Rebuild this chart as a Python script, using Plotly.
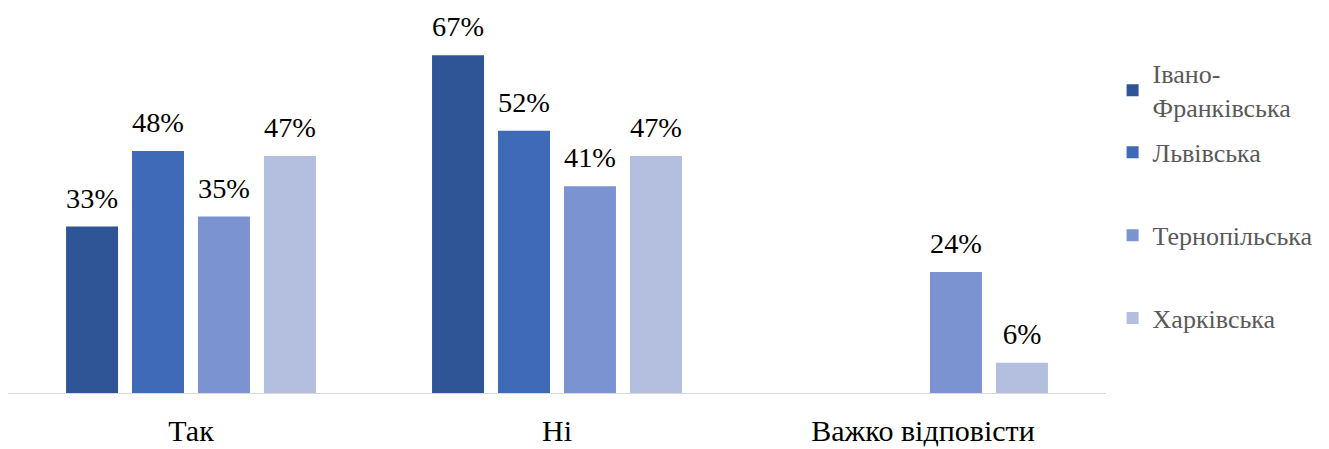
import plotly.graph_objects as go

categories = ["Так", "Ні", "Важко відповісти"]
series_names = ["Івано-<br>Франківська", "Львівська", "Тернопільська", "Харківська"]
ivano = [33, 67, None]
lviv = [48, 52, None]
ternopil = [35, 41, 24]
kharkiv = [47, 47, 6]
colors = ["#2F5597", "#3E6AB8", "#7B94D1", "#B4BFE0"]

SERIF = "Times New Roman, Liberation Serif, DejaVu Serif, serif"
LABEL_PAD = 2.0  # visual gap (in axis units) between bar top and its label

fig = go.Figure()
for i, (name, vals, c) in enumerate(zip(series_names, [ivano, lviv, ternopil, kharkiv], colors)):
    grp = f"g{i}"
    fig.add_trace(go.Bar(
        x=categories, y=vals, name=name, marker=dict(color=c, line=dict(width=0)),
        offsetgroup=grp, legendgroup=grp,
        legend="legend" if i == 0 else "legend2",
        hoverinfo="x+y+name",
    ))
    # invisible spacer carrying the value label
    fig.add_trace(go.Bar(
        x=categories, y=[LABEL_PAD if v is not None else None for v in vals],
        base=vals, offsetgroup=grp, legendgroup=grp, showlegend=False,
        marker=dict(color="rgba(0,0,0,0)", line=dict(width=0)),
        text=[f"{v}%" if v is not None else "" for v in vals],
        textposition="outside", cliponaxis=False,
        textfont=dict(family=SERIF, size=29, color="#000000"),
        hoverinfo="skip",
    ))

legend_font = dict(family=SERIF, size=26, color="#595959")
fig.update_layout(
    width=1329, height=449,
    margin=dict(l=8, r=223, t=40, b=56),
    paper_bgcolor="white", plot_bgcolor="white",
    barmode="group", bargap=0.279, bargroupgap=0.212,
    font=dict(family=SERIF),
    showlegend=True,
    legend=dict(
        x=1.006, y=0.972, xanchor="left", yanchor="top",
        font=legend_font, itemwidth=30,
    ),
    legend2=dict(
        x=1.006, y=0.748, xanchor="left", yanchor="top",
        font=legend_font, itemwidth=30, tracegroupgap=46,
        traceorder="grouped",
    ),
    xaxis=dict(
        showline=True, linecolor="#D9D9D9", linewidth=1,
        tickfont=dict(family=SERIF, size=30, color="#000000"),
        ticks="", showgrid=False, automargin=False, ticklabelstandoff=11,
    ),
    yaxis=dict(range=[0, 70], visible=False, showgrid=False, zeroline=False),
)

fig.write_html("out.html", config={"displayModeBar": False},
               post_script="document.body.style.margin='0';")
